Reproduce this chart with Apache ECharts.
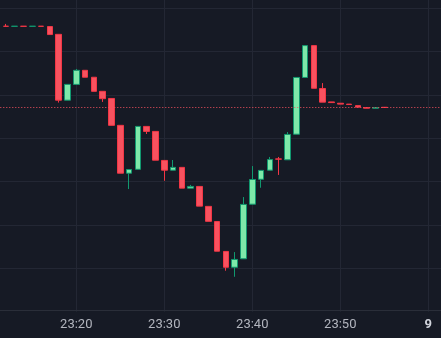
<!DOCTYPE html>
<html>
<head>
<meta charset="utf-8">
<script src="https://cdn.jsdelivr.net/npm/echarts@6/dist/echarts.min.js"></script>
<style>
html,body{margin:0;padding:0;background:#161a25;}
#c{width:441px;height:338px;}
</style>
</head>
<body>
<div id="c"></div>
<script>
// minutes after 23:00 (60 = 00:00 of day 9)
const minutes = [11,12,13,14,15,16,17,18,19,20,21,22,23,24,25,26,27,28,29,30,31,32,33,34,35,36,37,38,39,40,41,42,43,44,45,46,47,48,49,50,51,52,53,54,55];
const opens  = [155.85,155.87,155.85,155.87,155.85,155.87,155.80,154.00,138.80,142.45,145.70,144.10,140.85,139.20,133.00,121.95,122.85,132.75,131.60,124.90,122.65,123.30,118.50,118.90,114.30,110.80,103.90,100.25,102.20,114.80,120.55,122.65,125.25,125.05,130.95,144.05,151.40,141.50,138.40,138.10,137.90,137.55,137.10,136.95,137.16];
const closes = [155.87,155.85,155.87,155.85,155.87,155.85,153.95,138.80,142.45,145.70,144.10,140.85,139.15,133.00,121.95,122.80,132.75,131.60,124.95,122.65,123.30,118.50,118.90,114.35,110.85,103.95,100.25,102.05,114.75,120.50,122.60,125.10,125.20,130.90,144.05,151.40,141.55,138.35,138.25,137.90,137.80,137.20,136.95,137.10,137.12];
const lows   = [155.85,155.85,155.85,155.85,155.85,155.85,153.95,138.25,138.80,142.45,144.10,140.85,138.40,133.00,121.95,118.30,122.85,131.00,124.95,120.20,122.65,118.50,118.50,114.35,110.85,103.95,99.45,98.05,102.20,114.80,118.60,122.65,121.55,125.05,130.95,144.05,141.55,138.35,138.25,137.90,137.80,137.20,136.95,136.95,137.12];
const highs  = [155.87,156.40,155.87,155.87,155.87,155.87,155.80,154.00,142.45,146.00,145.70,144.10,140.85,139.20,133.00,122.80,132.75,132.75,131.60,124.90,125.00,123.30,119.25,118.90,114.30,110.80,103.90,103.75,116.45,123.60,122.60,125.70,125.70,131.45,144.05,151.40,151.40,142.75,138.40,138.10,137.90,137.55,137.10,137.10,137.16];
const tickLabels = {20:'23:20',30:'23:30',40:'23:40',50:'23:50',60:'{b|9}'};

const data = minutes.map((m,i)=>[m, opens[i], closes[i], lows[i], highs[i]]);
const lastClose = closes[closes.length-1];

const chart = echarts.init(document.getElementById('c'), null, {renderer:'canvas'});
chart.setOption({
  backgroundColor:'#161a25',
  animation:false,
  grid:{left:-11.7, width:528, top:-35, height:346.67, outerBoundsMode:'none', containLabel:false},
  xAxis:{
    type:'value', min:10, max:70, interval:10,
    offset:-1.5,
    axisLine:{show:true, lineStyle:{color:'#2a2e39', width:1}},
    axisTick:{show:false},
    splitLine:{show:true, lineStyle:{color:'#232734', width:1}},
    axisLabel:{
      show:true, margin:8, color:'#b2b5be', fontFamily:'Roboto', fontSize:13,
      formatter:(v)=> tickLabels[v] || '',
      rich:{b:{fontWeight:'bold', color:'#d1d4dc', fontFamily:'Roboto', fontSize:13}}
    }
  },
  yAxis:{
    type:'value', min:90, max:170, interval:10, scale:true,
    axisLine:{show:false}, axisTick:{show:false}, axisLabel:{show:false},
    splitLine:{show:true, showMinLine:false, lineStyle:{color:'#232734', width:1}}
  },
  series:[{
    type:'candlestick',
    encode:{x:0, y:[1,2,3,4]},
    data:data,
    barWidth:6,
    itemStyle:{
      color:'#7ee8a9', color0:'#f7525f',
      borderColor:'#11986f', borderColor0:'#f23645',
      borderColorDoji:'#f23645', borderWidth:1
    },
    markLine:{
      silent:true, symbol:'none', animation:false,
      label:{show:false},
      lineStyle:{type:[1,2], color:'#f7525f', width:1, opacity:1},
      data:[{yAxis:lastClose}]
    }
  }]
});
</script>
</body>
</html>
